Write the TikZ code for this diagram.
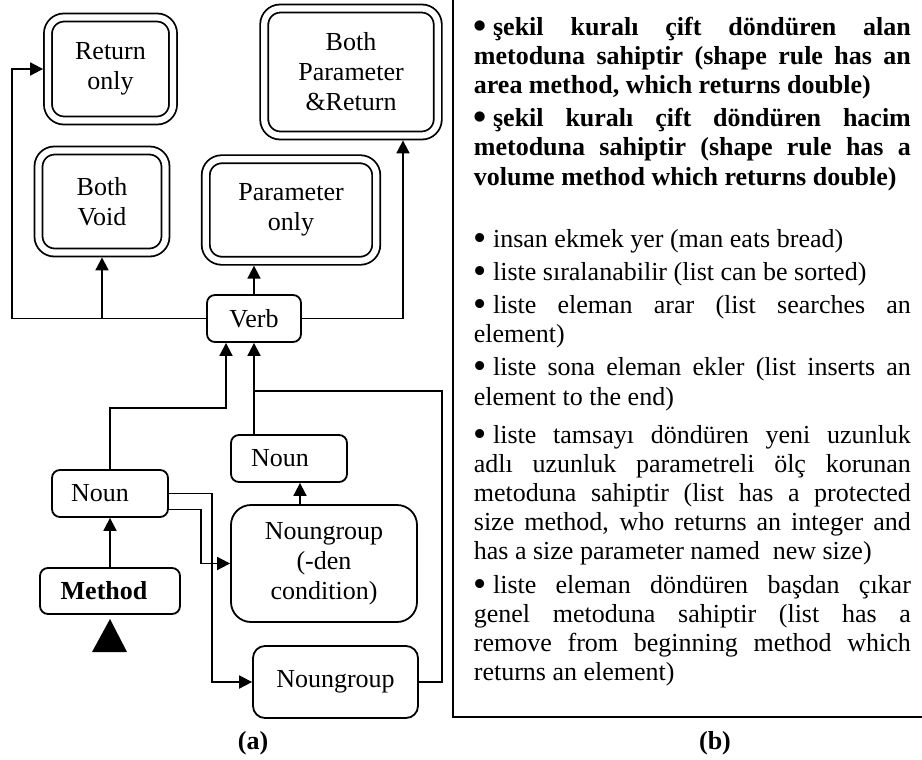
\documentclass[tikz,border=0pt]{standalone}
\usepackage{fontspec}
\setmainfont{Liberation Serif}
\usetikzlibrary{arrows.meta}

\newcommand{\itm}{\smash{\raisebox{-0.12em}{\scalebox{1.45}{\textbullet}}}\hspace{3pt}}

\tikzset{
  box/.style={draw, rounded corners=4pt, align=center, inner sep=0pt,
    font=\fontsize{13}{15}\selectfont},
  dbox/.style={box, double, double distance=3.1pt, rounded corners=8pt, outer sep=2.45pt},
  txt/.style={inner sep=0pt, text width=218.5pt, align=justify,
    font=\fontsize{13}{14.6}\selectfont,
    execute at begin node={\parindent=0pt\parskip=2pt\hyphenpenalty=10000\tolerance=10000}},
}

\begin{document}
\begin{tikzpicture}[x=0.5pt, y=-0.5pt, line width=0.9pt, >={Triangle[length=6.5pt,width=6.5pt]}]
	\useasboundingbox (0,0) rectangle (922,760);
	% (a) result boxes
	\node [dbox, minimum width=62.5pt, minimum height=51.5pt] (retonly) at (110.5,69) {Return\\only};
	\node [dbox, minimum width=86.75pt, minimum height=63.5pt] (bothpr) at (351,72) {Both\\Parameter\\\&Return};
	\node [dbox, minimum width=63.5pt, minimum height=51pt] (bothvoid) at (102,201.5) {Both\\Void};
	\node [dbox, minimum width=85.25pt, minimum height=50.75pt] (paronly) at (291,210) {Parameter\\only};
	% (a) sentence parts
	\node [box, minimum width=47pt, minimum height=23.5pt] (verb) at (254,318.5) {Verb};
	\node [box, minimum width=58pt, minimum height=23.5pt] (noun1) at (110,493.5) {Noun\hspace*{10pt}};
	\node [box, minimum width=58pt, minimum height=23.5pt] (noun2) at (289,458.5) {Noun\hspace*{9pt}};
	\node [box, rounded corners=10pt, minimum width=93pt, minimum height=58.5pt] (ngcond) at (324,563.5) {Noungroup\\(-den\\condition)};
	\node [box, rounded corners=6pt, minimum width=82.5pt, minimum height=36pt] (ng) at (335.5,682) {Noungroup};
	\node [box, font=\fontsize{13}{15}\selectfont\bfseries, minimum width=70pt, minimum height=23pt] (method) at (110,591) {Method\hspace*{6pt}};
	\fill (110,619) -- (92,652) -- (127,652) -- cycle;
	% connectors
	\coordinate (lft) at (12,318.5);
	\coordinate (rgt) at (403,318.5);
	\coordinate (vin1) at (226,408);
	\coordinate (jn) at (442,391);
	\draw [->] (verb.west) -- (lft) |- (retonly.west);
	\draw [->] (bothvoid.south |- verb.west) -- (bothvoid.south);
	\draw [->] (verb.north) -- (verb.north |- paronly.south);
	\draw [->] (verb.east) -- (rgt) -- (rgt |- bothpr.south);
	\draw [->] (noun1.north) |- (vin1) -- (vin1 |- verb.south);
	\draw [->] (verb.south |- noun2.north) -- (verb.south);
	\draw (ng.east) -| (jn) -- (jn -| verb.south);
	\draw [->] ([xshift=-12pt]ngcond.north) -- ([xshift=-12pt]ngcond.north |- noun2.south);
	\draw [->] (noun1.east) -- ++(43,0) |- (ng.west);
	\draw [->] ([yshift=-8pt]noun1.east) -- ++(32,0) |- (ngcond.west);
	\draw [->] (method) -- (noun1);
	% (b) frame and sentences
	\draw [line width=0.8pt] (453,0) -- (453,717) -- (922,717);
	\node [txt, font=\fontsize{13}{14.6}\selectfont\bfseries, anchor=base west] (rules) at (473,35) {%
		\itm şekil kuralı çift döndüren alan\linebreak metoduna sahiptir (shape rule has an\linebreak area method, which returns double)\par
		\itm şekil kuralı çift döndüren hacim\linebreak metoduna sahiptir (shape rule has a\linebreak volume method which returns double)};
	\node [txt, anchor=base west] (facts) at (473,247) {%
		\itm insan ekmek yer (man eats bread)\par
		\itm liste sıralanabilir (list can be sorted)\par
		\itm liste eleman arar (list searches an\linebreak element)\par
		\itm liste sona eleman ekler (list inserts an\linebreak element to the end)\par\vspace{2.5pt}
		\itm liste tamsayı döndüren yeni uzunluk\linebreak adlı uzunluk parametreli ölç korunan\linebreak metoduna sahiptir (list has a protected\linebreak size method, who returns an integer and\linebreak has a size parameter named\ \ new size)\par
		\itm liste eleman döndüren başdan çıkar\linebreak genel metoduna sahiptir (list has a\linebreak remove from beginning method which\linebreak returns an element)};
	% captions
	\node [font=\fontsize{13}{15}\selectfont\bfseries] (capa) at (253,743) {(a)};
	\node [font=\fontsize{13}{15}\selectfont\bfseries] (capb) at (715,743) {(b)};
\end{tikzpicture}
\end{document}
